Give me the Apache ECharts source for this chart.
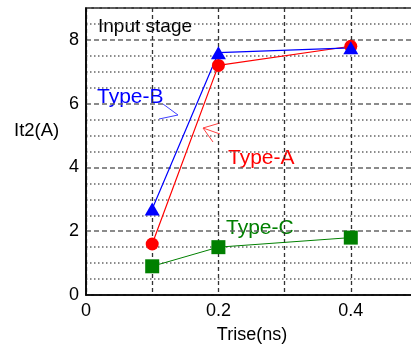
<!DOCTYPE html>
<html><head><meta charset="utf-8">
<script src="https://cdn.jsdelivr.net/npm/echarts@6/dist/echarts.min.js"></script>
<style>html,body{margin:0;padding:0;background:#fff}#c{width:411px;height:346px}</style>
</head><body><div id="c"></div>
<script>
const xValues = [0.1, 0.2, 0.4];
const typeA = [1.6, 7.2, 7.8];
const typeB = [2.7, 7.6, 7.75];
const typeC = [0.9, 1.5, 1.8];
const xTickLabels = ['0', '0.2', '0.4'];
const yTickLabels = ['0', '2', '4', '6', '8'];

const FONT = '"Liberation Sans", Arial, sans-serif';
const pairs = arr => xValues.map((x, i) => [x, arr[i]]);
const chart = echarts.init(document.getElementById('c'));

chart.setOption({
  animation: false,
  grid: { left: 86, top: 8, width: 331, height: 287, outerBoundsMode: 'none', containLabel: false,
          show: true, borderColor: '#000', borderWidth: 1.5, backgroundColor: 'transparent' },
  xAxis: {
    type: 'value', min: 0, max: 0.5, interval: 0.1,
    axisLine: { show: true, lineStyle: { color: '#000', width: 1.5 } },
    axisTick: { show: false },
    axisLabel: {
      color: '#000', fontSize: 18, fontFamily: FONT, margin: 7,
      formatter: v => { const s = String(Math.round(v * 10) / 10); return xTickLabels.indexOf(s) >= 0 ? s : ''; }
    },
    splitLine: { show: true, lineStyle: { color: '#333', type: [4, 3], width: 1.3 } }
  },
  yAxis: [{
    type: 'value', min: 0, max: 9, interval: 0.5,
    axisLine: { show: true, lineStyle: { color: '#000', width: 1.5 } },
    axisTick: { show: false },
    axisLabel: {
      color: '#000', fontSize: 18, fontFamily: FONT, margin: 7,
      formatter: v => { const s = String(Math.round(v * 10) / 10); return yTickLabels.indexOf(s) >= 0 ? s : ''; }
    },
    splitLine: { show: true, lineStyle: { color: ['transparent', '#666', '#666', '#666'], type: [1.5, 2.5], width: 1.6 } }
  }, {
    type: 'value', min: 0, max: 9, interval: 2, position: 'right',
    axisLine: { show: false }, axisTick: { show: false }, axisLabel: { show: false },
    splitLine: { show: true, lineStyle: { color: '#666', type: [5, 3], width: 1.6 } }
  }],
  series: [
    { name: 'Type-C', type: 'line', data: pairs(typeC), symbol: 'rect', symbolSize: 14,
      lineStyle: { color: '#008000', width: 1 }, itemStyle: { color: '#008000' } },
    { name: 'Type-A', type: 'line', data: pairs(typeA), symbol: 'circle', symbolSize: 13,
      lineStyle: { color: '#ff0000', width: 1.2 }, itemStyle: { color: '#ff0000' } },
    { name: 'Type-B', type: 'line', data: pairs(typeB), symbol: 'triangle', symbolSize: [15, 13],
      lineStyle: { color: '#0000ff', width: 1.2 }, itemStyle: { color: '#0000ff' } }
  ],
  graphic: [
    { type: 'text', left: 14, top: 121, style: { text: 'It2(A)', font: '18.5px ' + FONT, fill: '#000' } },
    { type: 'text', x: 252, y: 335, style: { text: 'Trise(ns)', font: '18px ' + FONT, fill: '#000', align: 'center', verticalAlign: 'middle' } },
    { type: 'text', x: 98, y: 36, style: { text: 'Input stage', font: '19px ' + FONT, fill: '#000', verticalAlign: 'bottom' } },
    { type: 'text', x: 97, y: 108, style: { text: 'Type-B', font: '21px ' + FONT, fill: '#0000ff', verticalAlign: 'bottom' } },
    { type: 'text', x: 228, y: 169, style: { text: 'Type-A', font: '21px ' + FONT, fill: '#ff0000', verticalAlign: 'bottom' } },
    { type: 'text', x: 226, y: 239, style: { text: 'Type-C', font: '21px ' + FONT, fill: '#008000', verticalAlign: 'bottom' } },
    { type: 'polyline', shape: { points: [[163, 104], [178, 115], [159, 119]] }, style: { stroke: '#4040ff', lineWidth: 1, fill: null } },
    { type: 'line', shape: { x1: 203, y1: 128, x2: 220, y2: 123 }, style: { stroke: '#ff4040', lineWidth: 1 } },
    { type: 'line', shape: { x1: 203, y1: 128, x2: 220, y2: 134 }, style: { stroke: '#ff4040', lineWidth: 1 } },
    { type: 'line', shape: { x1: 203, y1: 128, x2: 213, y2: 142 }, style: { stroke: '#ff4040', lineWidth: 1 } }
  ]
});
</script></body></html>
